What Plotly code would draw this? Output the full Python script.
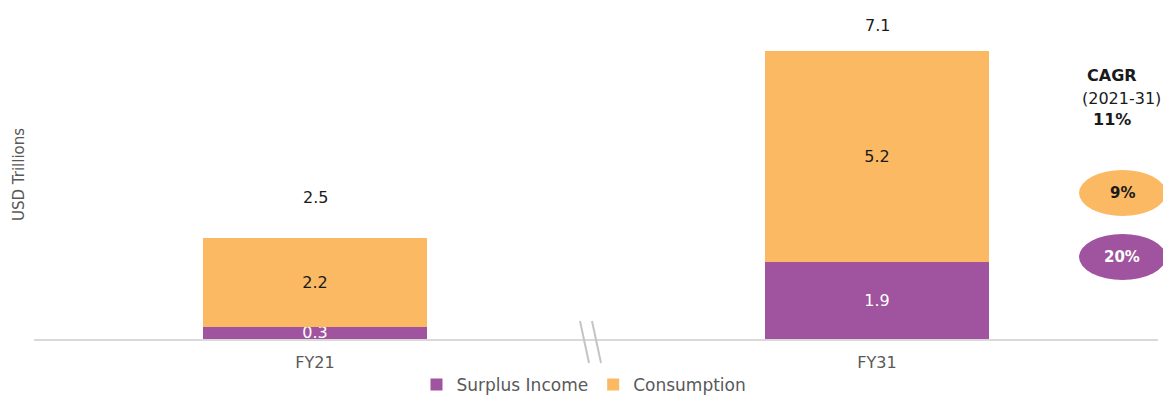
import plotly.graph_objects as go

# Data (USD trillions)
years = ["FY21", "FY31"]
surplus_income = [0.3, 1.9]
consumption = [2.2, 5.2]
totals = [2.5, 7.1]
cagr_overall = "11%"
cagr_consumption = "9%"
cagr_surplus = "20%"

PURPLE = "#A0539E"
ORANGE = "#FBB963"
FONT = "'DejaVu Sans', sans-serif"

W, H = 1163, 395
L, R, T, B = 34, 5, 10, 56
PW, PH = W - L - R, H - T - B


def px_x(x):
    return (x - L) / PW


def px_y(y):
    return (H - B - y) / PH


fig = go.Figure()

fig.add_trace(go.Bar(
    x=years, y=surplus_income, name="Surplus Income",
    marker=dict(color=PURPLE, line=dict(width=0)), width=0.4,
    text=[f"{v:.1f}" for v in surplus_income], textposition="inside",
    insidetextanchor="middle", textfont=dict(color="white", size=16, family=FONT),
))
fig.add_trace(go.Bar(
    x=years, y=consumption, name="Consumption",
    marker=dict(color=ORANGE, line=dict(width=0)), width=0.4,
    text=[f"{v:.1f}" for v in consumption], textposition="inside",
    insidetextanchor="middle", textfont=dict(color="#1a1a1a", size=16, family=FONT),
))

# Totals above each stack
for yr, tot, shift in zip(years, totals, (40, 26)):
    fig.add_annotation(x=yr, y=tot, text=f"{tot:.1f}", showarrow=False,
                       yanchor="middle", yshift=shift,
                       font=dict(size=16, color="#1a1a1a", family=FONT))

# Axis break marks
for x0 in (580, 592):
    fig.add_shape(type="line", xref="paper", yref="paper",
                  x0=px_x(x0), x1=px_x(x0 + 9),
                  y0=px_y(321), y1=px_y(363),
                  line=dict(color="#c4c4c4", width=2))

# CAGR panel
for txt, cx, cy in ((f"<b>CAGR</b>", 1112, 76),
                    ("(2021-31)", 1121, 98),
                    (f"<b>{cagr_overall}</b>", 1112, 119)):
    fig.add_annotation(xref="paper", yref="paper", x=px_x(cx), y=px_y(cy),
                       text=txt, showarrow=False, xanchor="center", yanchor="middle",
                       font=dict(size=16, color="#1a1a1a", family=FONT))

for cy, col, txt, tcol in ((193, ORANGE, cagr_consumption, "#1a1a1a"),
                           (257, PURPLE, cagr_surplus, "white")):
    fig.add_shape(type="circle", xref="paper", yref="paper",
                  x0=px_x(1079), x1=px_x(1166),
                  y0=px_y(cy + 23), y1=px_y(cy - 23),
                  fillcolor=col, line=dict(width=0), layer="above")
    fig.add_annotation(xref="paper", yref="paper", x=px_x(1122), y=px_y(cy),
                       xanchor="center", yanchor="middle",
                       text=f"<b>{txt}</b>", showarrow=False,
                       font=dict(size=15, color=tcol, family=FONT))

fig.update_layout(
    width=W, height=H,
    margin=dict(l=L, r=R, t=T, b=B, autoexpand=False),
    paper_bgcolor="white", plot_bgcolor="white",
    barmode="stack",
    font=dict(family=FONT, color="#595959"),
    uniformtext=dict(minsize=16, mode="show"),
    showlegend=True,
    legend=dict(orientation="h", x=px_x(584), xanchor="center",
                yref="container", y=(H - 385) / H, yanchor="middle",
                font=dict(size=17, color="#595959", family=FONT),
                traceorder="normal", itemwidth=30, tracegroupgap=0),
    xaxis=dict(showline=True, linecolor="#d9d9d9", linewidth=2, ticks="",
               ticklabelstandoff=8,
               tickfont=dict(size=16, color="#595959", family=FONT),
               showgrid=False, zeroline=False),
    yaxis=dict(range=[0, 8.12], showticklabels=False, showgrid=False, zeroline=False,
               showline=False,
               title=dict(text="USD Trillions", standoff=4,
                          font=dict(size=15, color="#595959", family=FONT))),
)

fig.write_html("out.html")
